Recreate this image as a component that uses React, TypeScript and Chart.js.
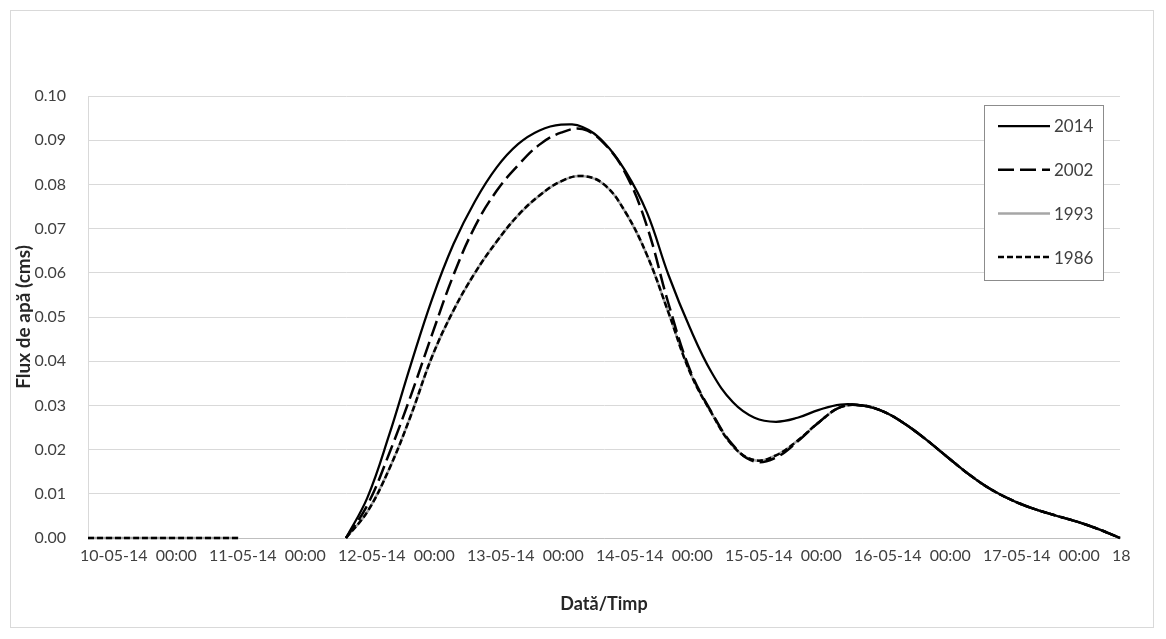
import React, { useEffect, useRef } from "react";
import { Chart, registerables } from "chart.js";

Chart.register(...registerables);

// Time in hours since 10-05-14 00:00
const hours = [
  0, 4, 8, 12, 16, 20, 24, 28, 32, 36, 40, 44,
  48, 52, 56, 60, 64, 68, 72, 76, 80, 84, 88, 92, 96, 100, 104, 108, 112, 116, 120,
  124, 128, 132, 136, 140, 144, 148, 152, 156, 160, 164, 168, 172, 176, 180, 184, 188, 192,
];

const tickHours = [0, 24, 48, 72, 96, 120, 144, 168, 192];
const xTickLabels = [
  "10-05-14  00:00",
  "11-05-14  00:00",
  "12-05-14  00:00",
  "13-05-14  00:00",
  "14-05-14  00:00",
  "15-05-14  00:00",
  "16-05-14  00:00",
  "17-05-14  00:00",
  "18",
];

const seriesNames = ["2014", "2002", "1993", "1986"];

const flow2014 = [
  null, null, null, null, null, null, null, null, null, null, null, null,
  0, 0.0092, 0.0232, 0.039, 0.054, 0.0665, 0.0762, 0.0838, 0.0891, 0.0922, 0.0935, 0.093, 0.0895, 0.083, 0.0736, 0.0595, 0.0475, 0.0375, 0.0307,
  0.0272, 0.0263, 0.0272, 0.029, 0.0302, 0.03, 0.0286, 0.0258, 0.0222, 0.0182, 0.0143, 0.011, 0.0085, 0.0066, 0.0051, 0.0037, 0.002, 0,
];

const flow2002 = [
  null, null, null, null, null, null, null, null, null, null, null, null,
  0, 0.0075, 0.019, 0.032, 0.046, 0.0595, 0.0705, 0.0785, 0.0843, 0.089, 0.0917, 0.0925, 0.0893, 0.0825, 0.0705, 0.053, 0.038, 0.0285, 0.021,
  0.0173, 0.0182, 0.0218, 0.0262, 0.0296, 0.03, 0.0286, 0.0258, 0.0222, 0.0182, 0.0143, 0.011, 0.0085, 0.0066, 0.0051, 0.0037, 0.002, 0,
];

const flow1993 = [
  0, 0, 0, 0, 0, 0, 0, 0, null, null, null, null,
  0, 0.006, 0.0155, 0.0275, 0.041, 0.0515, 0.06, 0.067, 0.073, 0.0775, 0.0807, 0.0819, 0.08, 0.0737, 0.064, 0.051, 0.0375, 0.0283, 0.0208,
  0.0176, 0.0187, 0.022, 0.0262, 0.0296, 0.03, 0.0286, 0.0258, 0.0222, 0.0182, 0.0143, 0.011, 0.0085, 0.0066, 0.0051, 0.0037, 0.002, 0,
];

const flow1986 = [
  0, 0, 0, 0, 0, 0, 0, 0, null, null, null, null,
  0, 0.006, 0.0155, 0.0275, 0.041, 0.0515, 0.06, 0.067, 0.073, 0.0775, 0.0807, 0.0819, 0.08, 0.0737, 0.064, 0.051, 0.0375, 0.0283, 0.0208,
  0.0176, 0.0187, 0.022, 0.0262, 0.0296, 0.03, 0.0286, 0.0258, 0.0222, 0.0182, 0.0143, 0.011, 0.0085, 0.0066, 0.0051, 0.0037, 0.002, 0,
];

const TEXT = "#404040";
const FONT = "Lato";

const toPoints = (vals: (number | null)[]) =>
  hours.map((h, i) => ({ x: h, y: vals[i] }));

const boxLegend = {
  id: "boxLegend",
  afterDatasetsDraw(chart: any) {
    const { ctx, chartArea } = chart;
    const bx = Math.round(chartArea.right - 136);
    const by = Math.round(chartArea.top + 9);
    const bw = 119;
    const bh = 175;
    ctx.save();
    ctx.fillStyle = "#ffffff";
    ctx.fillRect(bx, by, bw, bh);
    ctx.strokeStyle = "#8c8c8c";
    ctx.lineWidth = 1;
    ctx.setLineDash([]);
    ctx.strokeRect(bx + 0.5, by + 0.5, bw, bh);
    chart.data.datasets.forEach((ds: any, i: number) => {
      const y = by + 21 + i * 43.7;
      ctx.beginPath();
      ctx.setLineDash(ds.borderDash || []);
      ctx.strokeStyle = ds.borderColor;
      ctx.lineWidth = ds.borderWidth;
      ctx.moveTo(bx + 14, y);
      ctx.lineTo(bx + 66, y);
      ctx.stroke();
      ctx.setLineDash([]);
      ctx.fillStyle = TEXT;
      ctx.font = `17px ${FONT}`;
      ctx.textBaseline = "middle";
      ctx.textAlign = "left";
      ctx.fillText(ds.label, bx + 70, y + 1);
    });
    ctx.restore();
  },
};

const common = {
  pointRadius: 0,
  tension: 0.4,
  spanGaps: false,
  clip: 6,
};

export default function App() {
  const canvasRef = useRef<HTMLCanvasElement | null>(null);

  useEffect(() => {
    if (!canvasRef.current) return;
    Chart.defaults.font.family = FONT;
    const chart = new Chart(canvasRef.current, {
      type: "line",
      data: {
        datasets: [
          {
            ...common,
            label: seriesNames[0],
            data: toPoints(flow2014),
            borderColor: "#000000",
            borderWidth: 2.25,
            order: 0,
          },
          {
            ...common,
            label: seriesNames[1],
            data: toPoints(flow2002),
            borderColor: "#000000",
            borderWidth: 2.5,
            borderDash: [16, 6],
            order: 1,
          },
          {
            ...common,
            label: seriesNames[2],
            data: toPoints(flow1993),
            borderColor: "#a6a6a6",
            borderWidth: 2.5,
            order: 3,
          },
          {
            ...common,
            label: seriesNames[3],
            data: toPoints(flow1986),
            borderColor: "#000000",
            borderWidth: 2.5,
            borderDash: [6, 3],
            order: 2,
          },
        ],
      },
      options: {
        animation: false,
        responsive: true,
        maintainAspectRatio: false,
        layout: { padding: { top: 85, right: 33, left: 0, bottom: 0 } },
        plugins: { legend: { display: false }, tooltip: { enabled: false } },
        scales: {
          x: {
            type: "linear",
            min: 0,
            max: 192,
            afterBuildTicks: (scale: any) => {
              scale.ticks = tickHours.map((v) => ({ value: v }));
            },
            ticks: {
              callback: (_v: any, i: number) => xTickLabels[i],
              align: "start",
              labelOffset: -8,
              padding: 8,
              autoSkip: false,
              maxRotation: 0,
              color: TEXT,
              font: { size: 16 },
            },
            grid: { display: false, drawTicks: false },
            border: { display: true, color: "#bfbfbf", width: 1 },
            title: {
              display: true,
              text: "Dată/Timp",
              color: "#262626",
              font: { size: 18, weight: "bold" },
              padding: { top: 0, bottom: 12 },
            },
            afterFit: (s: any) => {
              s.height = 89;
            },
          },
          y: {
            min: 0,
            max: 0.1,
            ticks: {
              stepSize: 0.01,
              callback: (v: any) => Number(v).toFixed(2),
              padding: 22,
              color: TEXT,
              font: { size: 16 },
            },
            grid: { color: "#d9d9d9", drawTicks: false },
            border: { display: true, color: "#d9d9d9" },
            title: {
              display: true,
              text: "Flux de apă (cms)",
              color: "#262626",
              font: { size: 19, weight: "bold" },
              padding: { top: 1, bottom: 0 },
            },
            afterFit: (s: any) => {
              s.width = 77;
            },
          },
        },
      } as any,
      plugins: [boxLegend],
    });
    return () => chart.destroy();
  }, []);

  return (
    <div style={{ padding: 2 }}>
      <div
        style={{
          width: 1142,
          height: 616,
          border: "1px solid #d9d9d9",
          position: "relative",
        }}
      >
        <canvas ref={canvasRef} />
      </div>
    </div>
  );
}
